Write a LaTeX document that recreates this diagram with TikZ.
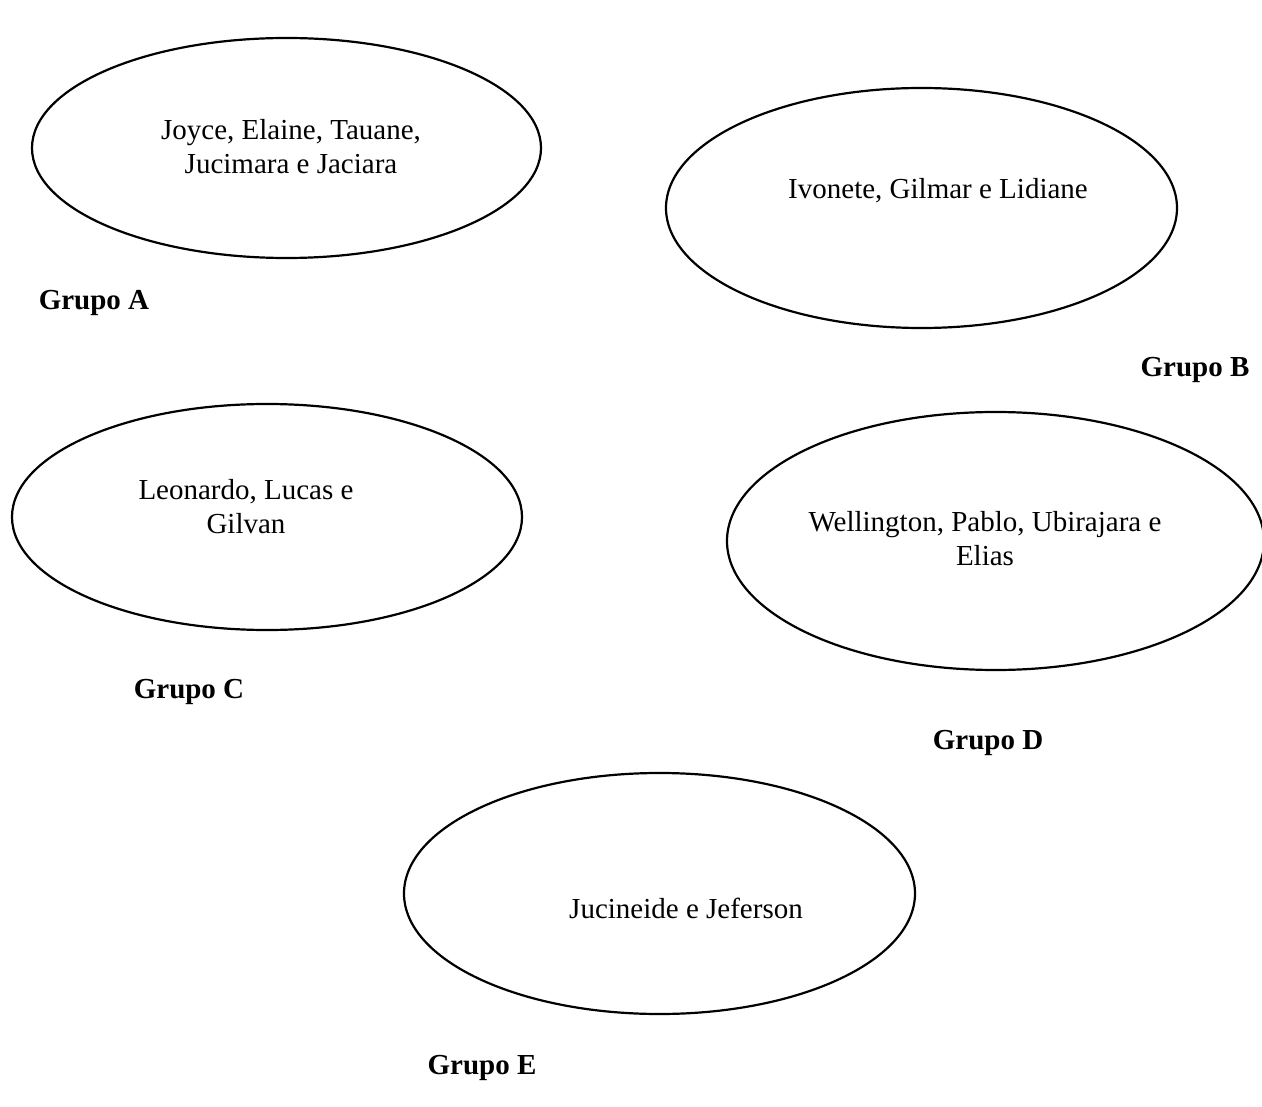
\documentclass[tikz,border=0pt]{standalone}
\usepackage{fontspec}
\setmainfont{Liberation Serif}
\usetikzlibrary{shapes.geometric}
\begin{document}
\begin{tikzpicture}[x=1pt,y=-1pt,
  grp/.style={draw, ellipse, line width=2.2pt, inner sep=0pt},
  names/.style={align=center, font=\fontsize{29}{34}\selectfont, inner sep=0pt},
  lbl/.style={font=\fontsize{29}{34}\selectfont\bfseries, inner sep=0pt}]
\useasboundingbox (0,0) rectangle (1262,1107);
\node[grp, minimum width=509pt, minimum height=220pt] (ea) at (286.5,148) {};
\node[grp, minimum width=511pt, minimum height=240pt] (eb) at (921.5,208) {};
\node[grp, minimum width=510pt, minimum height=226pt] (ec) at (267,517) {};
\node[grp, minimum width=537pt, minimum height=258pt] (ed) at (995.5,541) {};
\node[grp, minimum width=511pt, minimum height=241pt] (ee) at (659.5,893.5) {};
\node[names] (ta) at (291,147) {Joyce, Elaine, Tauane,\\Jucimara e Jaciara};
\node[names] (tb) at (938,191) {Ivonete, Gilmar e Lidiane};
\node[names] (tc) at (246,507) {Leonardo, Lucas e\\Gilvan};
\node[names] (td) at (985,539) {Wellington, Pablo, Ubirajara e\\Elias};
\node[names] (te) at (686,908) {Jucineide e Jeferson};
\node[lbl] (la) at (94,303) {Grupo A};
\node[lbl] (lb) at (1195,370) {Grupo B};
\node[lbl] (lc) at (189,692) {Grupo C};
\node[lbl] (ld) at (988,743) {Grupo D};
\node[lbl] (le) at (482,1068) {Grupo E};
\end{tikzpicture}
\end{document}
